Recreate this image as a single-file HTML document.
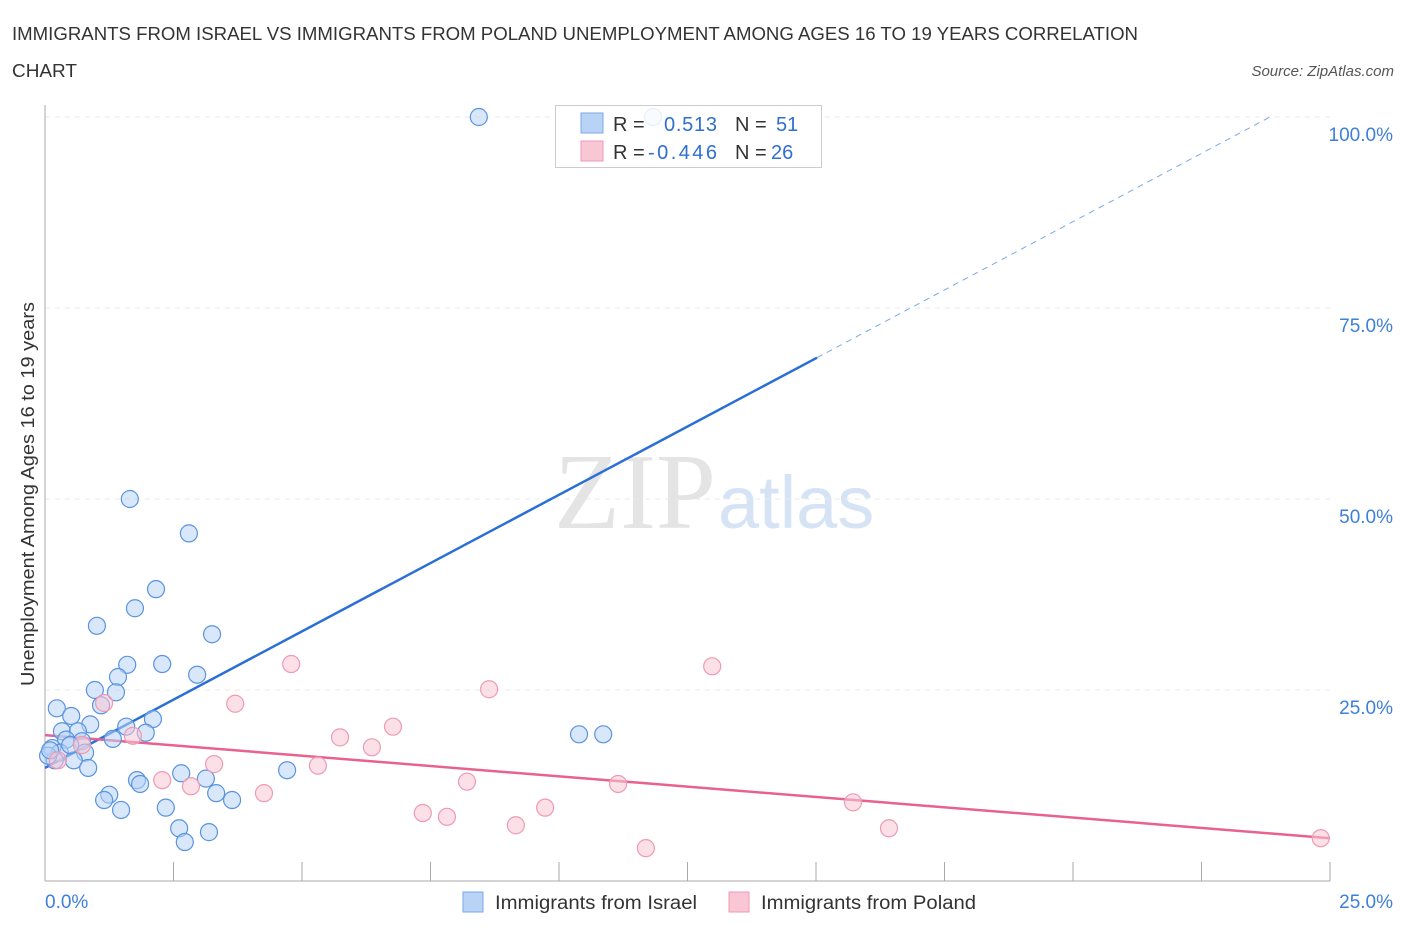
<!DOCTYPE html>
<html><head><meta charset="utf-8"><style>
body{margin:0;background:#fff;font-family:"Liberation Sans",sans-serif;}
</style></head><body>
<svg id="chart" width="1406" height="930" xmlns="http://www.w3.org/2000/svg" style="font-family:'Liberation Sans',sans-serif">
<text x="12" y="40" font-size="18" fill="#333" textLength="1126" lengthAdjust="spacingAndGlyphs">IMMIGRANTS FROM ISRAEL VS IMMIGRANTS FROM POLAND UNEMPLOYMENT AMONG AGES 16 TO 19 YEARS CORRELATION</text>
<text x="12" y="77" font-size="18" fill="#333" textLength="65" lengthAdjust="spacingAndGlyphs">CHART</text>
<text x="1394" y="76" font-size="15" fill="#555" font-style="italic" text-anchor="end">Source: ZipAtlas.com</text>
<text x="716" y="528" font-size="108" fill="#e4e4e4" text-anchor="end" font-family="Liberation Serif,serif">ZIP</text>
<text x="718" y="528" font-size="74" fill="#d5e3f5">atlas</text>
<text transform="translate(34,494) rotate(-90)" font-size="18" fill="#333" text-anchor="middle" textLength="384" lengthAdjust="spacingAndGlyphs">Unemployment Among Ages 16 to 19 years</text>
<g id="grid"></g><g id="axes"></g><g id="lines"></g><g id="pts"></g>
<g>
<rect x="555.5" y="105.5" width="266" height="62" fill="#fff" fill-opacity="0.85" stroke="#ccc"/>
<rect x="581" y="113" width="22" height="20" fill="#b8d3f5" stroke="#7aaae8"/>
<rect x="581" y="141" width="22" height="20" fill="#f9c6d6" stroke="#ee9ab5"/>
<text x="613" y="131" font-size="20" fill="#333">R = </text><text x="664" y="131" font-size="20" fill="#2f6fd0" textLength="53">0.513</text>
<text x="735" y="131" font-size="20" fill="#333">N = </text><text x="776" y="131" font-size="20" fill="#2f6fd0">51</text>
<text x="613" y="159" font-size="20" fill="#333">R = </text><text x="648" y="159" font-size="20" fill="#2f6fd0" textLength="69">-0.446</text>
<text x="735" y="159" font-size="20" fill="#333">N = </text><text x="771" y="159" font-size="20" fill="#2f6fd0">26</text>
</g>
<g>
<rect x="463" y="892" width="20" height="20" fill="#b8d3f5" stroke="#7aaae8"/>
<text x="495" y="909" font-size="19" fill="#333" textLength="202" lengthAdjust="spacingAndGlyphs">Immigrants from Israel</text>
<rect x="729" y="892" width="20" height="20" fill="#f9c6d6" stroke="#ee9ab5"/>
<text x="761" y="909" font-size="19" fill="#333" textLength="215" lengthAdjust="spacingAndGlyphs">Immigrants from Poland</text>
</g>
</svg>
<script>
const israelX=[8.44,11.83,1.65,2.80,2.16,1.75,1.01,3.25,2.28,1.60,2.96,1.42,0.97,1.38,1.09,0.23,2.10,1.58,0.51,0.88,0.33,0.64,0.41,0.72,1.32,1.96,0.14,0.29,0.78,0.56,0.84,0.19,0.06,2.65,4.71,3.13,1.79,1.85,1.25,1.15,3.33,3.64,2.35,1.48,2.61,3.19,2.72,10.39,10.86,0.10,0.49];
const israelY=[100,100,50.0,45.5,38.2,35.7,33.4,32.3,28.4,28.3,27.0,26.7,25.0,24.7,23.0,22.6,21.2,20.2,21.6,20.5,19.6,19.6,18.5,18.3,18.6,19.4,17.4,16.8,16.8,15.8,14.8,15.8,16.4,14.1,14.5,13.4,13.2,12.7,11.3,10.6,11.5,10.6,9.6,9.3,6.9,6.4,5.1,19.2,19.2,17.1,17.8];
const polandX=[4.79,12.98,8.64,3.70,1.15,6.77,5.74,6.36,1.71,0.72,0.25,5.31,3.29,2.28,2.84,8.21,4.26,11.15,9.73,7.35,7.82,9.16,15.72,16.42,11.69,24.82];
const polandY=[28.4,28.1,25.1,23.2,23.3,20.2,18.8,17.5,19.0,17.8,15.8,15.1,15.3,13.2,12.4,13.0,11.5,12.7,9.6,8.9,8.4,7.3,10.3,6.9,4.3,5.6];
const israelTrend=[14.8,3.575]; // intercept, slope
const polandTrend=[19.1,-0.54];
const yTicks=[25,50,75,100];
const yTickLabels=["25.0%","50.0%","75.0%","100.0%"];
const xTickLabels=["0.0%","25.0%"];
const NS="http://www.w3.org/2000/svg";
const X=v=>45+v/25*1285, Y=v=>881-v/100*764;
function mk(tag,at,parent){const e=document.createElementNS(NS,tag);for(const k in at)e.setAttribute(k,at[k]);document.getElementById(parent).appendChild(e);return e;}
yTicks.forEach((t,i)=>{
 const g=mk('line',{x1:45,x2:1330,y1:Y(t),y2:Y(t),stroke:'#e8e8e8','stroke-dasharray':'5,5'},'grid');
 
 
 const l=mk('text',{x:1393,y:Y(t)+24,'font-size':19,fill:'#3d7fd9','text-anchor':'end'},'grid');
 l.textContent=yTickLabels[i];
 
 
});
const ax=mk('line',{x1:45,x2:45,y1:105,y2:881,stroke:'#aaa'},'axes');


const bx=mk('line',{x1:45,x2:1330,y1:881,y2:881,stroke:'#aaa'},'axes');


for(let i=0;i<=10;i++){const t=mk('line',{x1:X(i*2.5),x2:X(i*2.5),y1:862,y2:881,stroke:'#aaa'},'axes');
 
 }
[[0,'start',45],[25,'end',1393]].forEach((d,i)=>{const t=mk('text',{x:d[2],y:908,'font-size':19,fill:'#3d7fd9','text-anchor':d[1]},'axes');t.textContent=xTickLabels[i];
 
 });
israelX.forEach((x,i)=>{const c=mk('circle',{cx:X(x),cy:Y(israelY[i]),r:8.5,fill:'#b8d3f5','fill-opacity':0.55,stroke:'#5a93e0','stroke-width':1.2},'pts');
 
 });
polandX.forEach((x,i)=>{const c=mk('circle',{cx:X(x),cy:Y(polandY[i]),r:8.5,fill:'#f9c6d6','fill-opacity':0.55,stroke:'#ee9ab5','stroke-width':1.2},'pts');
 
 });
const xe=15.02, xEnd=(100-israelTrend[0])/israelTrend[1];
const l1=mk('line',{x1:X(0),y1:Y(israelTrend[0]),x2:X(xe),y2:Y(israelTrend[0]+israelTrend[1]*xe),stroke:'#2a6fd6','stroke-width':2.5},'lines');


const l2=mk('line',{x1:X(xe),y1:Y(israelTrend[0]+israelTrend[1]*xe),x2:X(xEnd),y2:Y(100),stroke:'#7aaae8','stroke-width':1,'stroke-dasharray':'6,5'},'lines');


const l3=mk('line',{x1:X(0),y1:Y(polandTrend[0]),x2:X(25),y2:Y(polandTrend[0]+polandTrend[1]*25),stroke:'#e8628f','stroke-width':2.5},'lines');


</script>
</body></html>
